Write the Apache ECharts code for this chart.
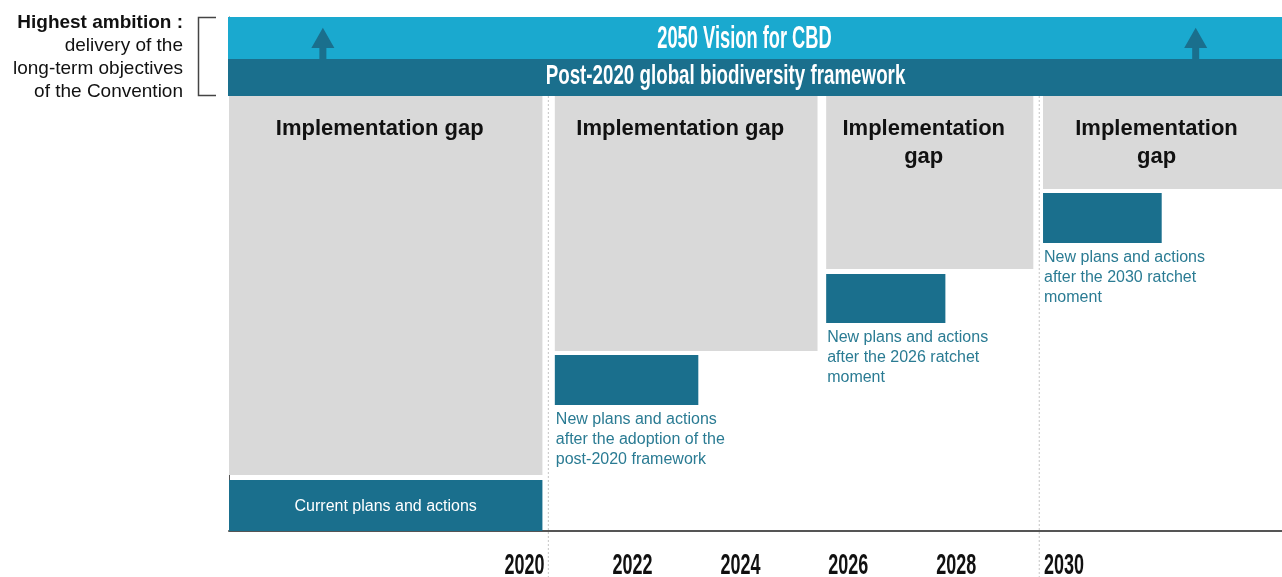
<!DOCTYPE html>
<html><head><meta charset="utf-8">
<script src="https://cdn.jsdelivr.net/npm/echarts@6/dist/echarts.min.js"></script>
<style>html,body{margin:0;padding:0;background:#fff}#c{width:1282px;height:577px}</style>
</head><body><div id="c"></div>
<script>
// ---- data (x in years, y in % of ambition scale) ----
const yearTicks = [2020, 2022, 2024, 2026, 2028, 2030];
const xMin = 2014.52, xMax = 2034.04;
const bandNames = ['2050 Vision for CBD', 'Post-2020 global biodiversity framework'];
const bandBottom = [91.83, 84.63];
const bandTop = [100, 91.83];
const arrowYears = [2016.26, 2032.44];
const gapLabels = ['Implementation gap', 'Implementation gap', 'Implementation\ngap', 'Implementation\ngap'];
const stageStart = [2014.52, 2020.56, 2025.59, 2029.61];
const gapEnd = [2020.33, 2025.43, 2029.43, 2034.04];
const gapBottom = [10.89, 35.02, 50.97, 66.54];
const gapTop = [84.63, 84.63, 84.63, 84.63];
const planLabels = ['Current plans and actions',
  'New plans and actions\nafter the adoption of the\npost-2020 framework',
  'New plans and actions\nafter the 2026 ratchet\nmoment',
  'New plans and actions\nafter the 2030 ratchet\nmoment'];
const planEnd = [2020.33, 2023.22, 2027.80, 2031.81];
const planBottom = [0, 24.51, 40.47, 56.03];
const planTop = [9.92, 34.24, 50.0, 65.76];
const ratchetLines = [2020.44, 2029.54];

// ---- styles ----
const LIGHT = '#1aa9cf', DARK = '#1a6f8d', GREY = '#d9d9d9', TEAL = '#2a7b93';
const SANS = '"Liberation Sans", Arial, sans-serif';

const chart = echarts.init(document.getElementById('c'));

const bandStyle = [
  { font: 'bold 31px ' + SANS, scaleX: 0.59, dx: -11, dy: 1.5 },
  { font: 'bold 28px ' + SANS, scaleX: 0.67, dx: -30, dy: -1 }
];

chart.setOption({
  animation: false,
  grid: { left: 229, right: 0, top: 17, bottom: 46, containLabel: false },
  xAxis: {
    type: 'value', min: xMin, max: xMax,
    axisLine: { show: true, lineStyle: { color: '#555', width: 2 } },
    axisTick: { show: false },
    splitLine: { show: false },
    axisLabel: { show: false }
  },
  yAxis: {
    type: 'value', min: 0, max: 100,
    axisLine: { show: true, lineStyle: { color: '#555', width: 1 } },
    axisTick: { show: false }, axisLabel: { show: false }, splitLine: { show: false }
  },
  graphic: [
    { type: 'polyline', shape: { points: [[216, 17.5], [198.5, 17.5], [198.5, 95.5], [216, 95.5]] },
      style: { stroke: '#444', lineWidth: 1.5, fill: null } },
    { type: 'text', x: 183, y: 11.5,
      style: {
        text: '{b|Highest ambition :}\ndelivery of the\nlong-term objectives\nof the Convention',
        align: 'right', verticalAlign: 'top', fill: '#111',
        font: '19px ' + SANS, lineHeight: 23,
        rich: { b: { fontWeight: 'bold', fontSize: 19, fontFamily: 'Liberation Sans', lineHeight: 23, fill: '#111' } }
      } }
  ],
  series: [
    { // ambition bands
      type: 'custom', name: 'bands',
      data: bandNames.map((n, i) => [xMin, xMax, bandBottom[i], bandTop[i], i]),
      renderItem: (params, api) => {
        const i = api.value(4);
        const p0 = api.coord([api.value(0), api.value(3)]);
        const p1 = api.coord([api.value(1), api.value(2)]);
        const s = bandStyle[i];
        return { type: 'group', children: [
          { type: 'rect', shape: { x: p0[0] - 1, y: p0[1], width: p1[0] - p0[0] + 1, height: p1[1] - p0[1] },
            style: { fill: i === 0 ? LIGHT : DARK } },
          { type: 'text', x: (p0[0] + p1[0]) / 2 + s.dx, y: (p0[1] + p1[1]) / 2 + s.dy, scaleX: s.scaleX,
            style: { text: bandNames[i], fill: '#fff', font: s.font, align: 'center', verticalAlign: 'middle' } }
        ] };
      }
    },
    { // arrows
      type: 'custom', name: 'arrows',
      data: arrowYears.map(x => [x, bandBottom[0]]),
      renderItem: (params, api) => {
        const b = api.coord([api.value(0), api.value(1)]);
        const x = b[0], y = b[1];
        return { type: 'polygon', shape: { points: [
          [x - 3.5, y], [x - 3.5, y - 11], [x - 11.5, y - 11], [x, y - 31.3],
          [x + 11.5, y - 11], [x + 3.5, y - 11], [x + 3.5, y]] },
          style: { fill: DARK } };
      }
    },
    { // ratchet dotted lines
      type: 'custom', name: 'ratchet',
      data: ratchetLines.map(x => [x, gapTop[0]]),
      renderItem: (params, api) => {
        const p = api.coord([api.value(0), api.value(1)]);
        return { type: 'line', shape: { x1: p[0], y1: p[1], x2: p[0], y2: api.getHeight() },
          style: { stroke: '#c4c4c4', lineWidth: 1, lineDash: [2, 2] } };
      }
    },
    { // year tick labels (condensed look), placed on the x scale
      type: 'custom', name: 'years',
      data: yearTicks.map(y => [y, 0]),
      renderItem: (params, api) => {
        const p = api.coord([api.value(0), api.value(1)]);
        return { type: 'text', x: p[0], y: p[1] + 35, scaleX: 0.62,
          style: { text: String(api.value(0)), fill: '#111', font: 'bold 29px ' + SANS,
            align: 'center', verticalAlign: 'middle' } };
      }
    },
    { // implementation gaps
      type: 'custom', name: 'gaps',
      data: gapLabels.map((l, i) => [stageStart[i], gapEnd[i], gapBottom[i], gapTop[i], i]),
      renderItem: (params, api) => {
        const i = api.value(4);
        const p0 = api.coord([api.value(0), api.value(3)]);
        const p1 = api.coord([api.value(1), api.value(2)]);
        return { type: 'group', children: [
          { type: 'rect', shape: { x: p0[0], y: p0[1], width: p1[0] - p0[0], height: p1[1] - p0[1] },
            style: { fill: GREY } },
          { type: 'text', x: (p0[0] + p1[0]) / 2 - 6, y: p0[1] + 19,
            style: { text: gapLabels[i], fill: '#111', font: 'bold 22px ' + SANS, lineHeight: 28,
              align: 'center', verticalAlign: 'top' } }
        ] };
      }
    },
    { // plans and actions
      type: 'custom', name: 'plans',
      data: planLabels.map((l, i) => [stageStart[i], planEnd[i], planBottom[i], planTop[i], i]),
      renderItem: (params, api) => {
        const i = api.value(4);
        const p0 = api.coord([api.value(0), api.value(3)]);
        const p1 = api.coord([api.value(1), api.value(2)]);
        const rect = { type: 'rect', shape: { x: p0[0], y: p0[1], width: p1[0] - p0[0], height: p1[1] - p0[1] },
          style: { fill: DARK } };
        const txt = i === 0
          ? { type: 'text', x: (p0[0] + p1[0]) / 2, y: (p0[1] + p1[1]) / 2 + 1,
              style: { text: planLabels[i], fill: '#fff', font: '16px ' + SANS, align: 'center', verticalAlign: 'middle' } }
          : { type: 'text', x: p0[0] + 1, y: p1[1] + 5,
              style: { text: planLabels[i], fill: TEAL, font: '16px ' + SANS, lineHeight: 20,
                align: 'left', verticalAlign: 'top' } };
        return { type: 'group', children: [rect, txt] };
      }
    }
  ]
});
</script>
</body></html>
